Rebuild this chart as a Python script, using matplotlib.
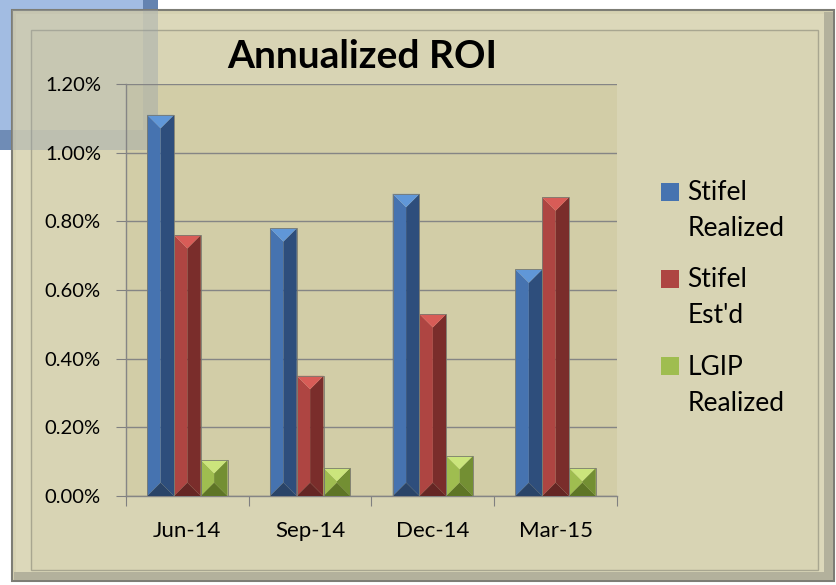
import matplotlib
matplotlib.use("Agg")
import matplotlib.pyplot as plt
from matplotlib.patches import Rectangle, Polygon, Patch
from matplotlib.legend_handler import HandlerPatch
import numpy as np

plt.rcParams['font.family'] = ['Lato', 'DejaVu Sans']

# Datos
quarters = ['Jun-14', 'Sep-14', 'Dec-14', 'Mar-15']
stifel_realized = [1.11, 0.78, 0.88, 0.66]
stifel_estd = [0.76, 0.35, 0.53, 0.87]
lgip_realized = [0.105, 0.082, 0.117, 0.082]
series_names = ['Stifel\nRealized', 'Stifel\nEst\'d', 'LGIP\nRealized']
y_ticks = [0.0, 0.2, 0.4, 0.6, 0.8, 1.0, 1.2]

# colores: cara izquierda, derecha, arriba, abajo
palettes = [
    ('#4673b0', '#2e4e7c', '#6097d8', '#2a4468'),
    ('#ae4542', '#7a2d2b', '#d85c57', '#652624'),
    ('#9fbd50', '#738f33', '#cbe57c', '#5e7526'),
]

W, H = 837, 585
fig = plt.figure(figsize=(W / 100, H / 100), dpi=100)
fig.patch.set_facecolor('white')


def px_rect(x0, y0, x1, y1, z, **kw):
    # rectangulo en pixeles (origen arriba-izquierda)
    r = Rectangle((x0 / W, 1 - y1 / H), (x1 - x0) / W, (y1 - y0) / H,
                  transform=fig.transFigure, zorder=z, **kw)
    fig.add_artist(r)
    return r


# caja azul detras (solo las partes fuera del marco)
px_rect(0, 0, 158, 10, 0.1, facecolor='#a2bce2', edgecolor='none')
px_rect(0, 0, 12, 150, 0.1, facecolor='#a2bce2', edgecolor='none')
px_rect(143, 0, 158, 10, 0.2, facecolor='#6483b0', edgecolor='none')
px_rect(0, 130, 12, 150, 0.2, facecolor='#6f8cb6', edgecolor='none')
# marco del grafico
px_rect(12, 10, 834, 581, 0.5, facecolor='#d6d2b2', edgecolor='#7d7d75', lw=1.5)
px_rect(824, 12, 833, 580, 0.55, facecolor='#b3b19c', edgecolor='none')
px_rect(14, 572, 833, 580, 0.55, facecolor='#b3b19c', edgecolor='none')
px_rect(16, 14, 824, 572, 0.6, facecolor='#dcd8ba', edgecolor='none')
px_rect(31, 30, 818, 570, 0.7, facecolor='#d8d4b4', edgecolor='#a8a690', lw=1)
# fondo del area de trazado
px_rect(126, 84, 617, 496, 0.75, facecolor='#d2cda7', edgecolor='none')
# la caja azul se transparenta un poco
px_rect(12, 10, 158, 150, 0.8, facecolor='#a2aab0', edgecolor='none', alpha=0.3)
px_rect(143, 10, 158, 150, 0.85, facecolor='#8896a8', edgecolor='none', alpha=0.15)
px_rect(12, 130, 143, 150, 0.85, facecolor='#8896a8', edgecolor='none', alpha=0.15)

ax = fig.add_axes([126 / W, 1 - 496 / H, (617 - 126) / W, (496 - 84) / H])
ax.set_facecolor('none')
ax.set_zorder(2)

n = len(quarters)
x = np.arange(n)
bw = 0.218
ax.set_xlim(-0.5, n - 0.5)
ax.set_ylim(0, 1.2)

fig.canvas.draw()
# profundidad del bisel en unidades de datos (45 grados en pixeles)
px_per_x = ax.transData.transform((1, 0))[0] - ax.transData.transform((0, 0))[0]
px_per_y = ax.transData.transform((0, 1))[1] - ax.transData.transform((0, 0))[1]

all_series = [stifel_realized, stifel_estd, lgip_realized]
for i, vals in enumerate(all_series):
    left_c, right_c, top_c, bot_c = palettes[i]
    offs = (i - 1) * bw
    for xi, v in zip(x, vals):
        x0 = xi + offs - bw / 2
        x1 = xi + offs + bw / 2
        xc = xi + offs
        d = min(bw / 2 * px_per_x / px_per_y, v / 2)
        ax.add_patch(Polygon([(x0, 0), (x0, v), (xc, v - d), (xc, d)],
                             closed=True, facecolor=left_c, edgecolor='none', zorder=3))
        ax.add_patch(Polygon([(x1, 0), (x1, v), (xc, v - d), (xc, d)],
                             closed=True, facecolor=right_c, edgecolor='none', zorder=3))
        ax.add_patch(Polygon([(x0, v), (x1, v), (xc, v - d)],
                             closed=True, facecolor=top_c, edgecolor='none', zorder=3))
        ax.add_patch(Polygon([(x0, 0), (x1, 0), (xc, d)],
                             closed=True, facecolor=bot_c, edgecolor='none', zorder=3))
        ax.add_patch(Rectangle((x0, 0), bw, v, facecolor='none',
                               edgecolor='#7a7a70', lw=0.6, zorder=4))

# ejes y rejilla
ax.set_yticks(y_ticks)
ax.set_yticklabels(['%.2f%%' % t for t in y_ticks])
ax.set_xticks(np.arange(n + 1) - 0.5)
ax.set_xticklabels([])
ax.set_xticks(x, quarters, minor=True)
ax.tick_params(axis='x', which='minor', length=0, pad=18, labelsize=16)
ax.tick_params(axis='x', which='major', length=7, color='#808080')
ax.tick_params(axis='y', length=7, color='#808080', labelsize=14.5, pad=11)
ax.grid(axis='y', color='#858585', lw=1)
ax.set_axisbelow(True)
for s in ['top', 'right']:
    ax.spines[s].set_visible(False)
for s in ['left', 'bottom']:
    ax.spines[s].set_color('#858585')
    ax.spines[s].set_linewidth(1)

fig.text(362 / W, 1 - 56 / H, 'Annualized ROI', ha='center', va='center',
         fontsize=28, fontweight='bold', color='black', zorder=5)


# leyenda: el cuadrito alineado con la primera linea
def make_square(legend, orig_handle, xdescent, ydescent, width, height, fontsize):
    s = 13
    cy = height / 2 + 14
    return Rectangle((width - s, cy - s / 2), s, s)


handles = [Patch(facecolor=p[0], edgecolor='none') for p in palettes]
leg = fig.legend(handles, series_names, loc='upper left',
                 bbox_to_anchor=(632 / W, 1 - 156 / H), frameon=False,
                 fontsize=19, handlelength=0.9, handletextpad=0.3,
                 labelspacing=1.0,
                 handler_map={Patch: HandlerPatch(patch_func=make_square)})
for t in leg.get_texts():
    t.set_linespacing(1.55)

fig.savefig('out.png', dpi=100)
